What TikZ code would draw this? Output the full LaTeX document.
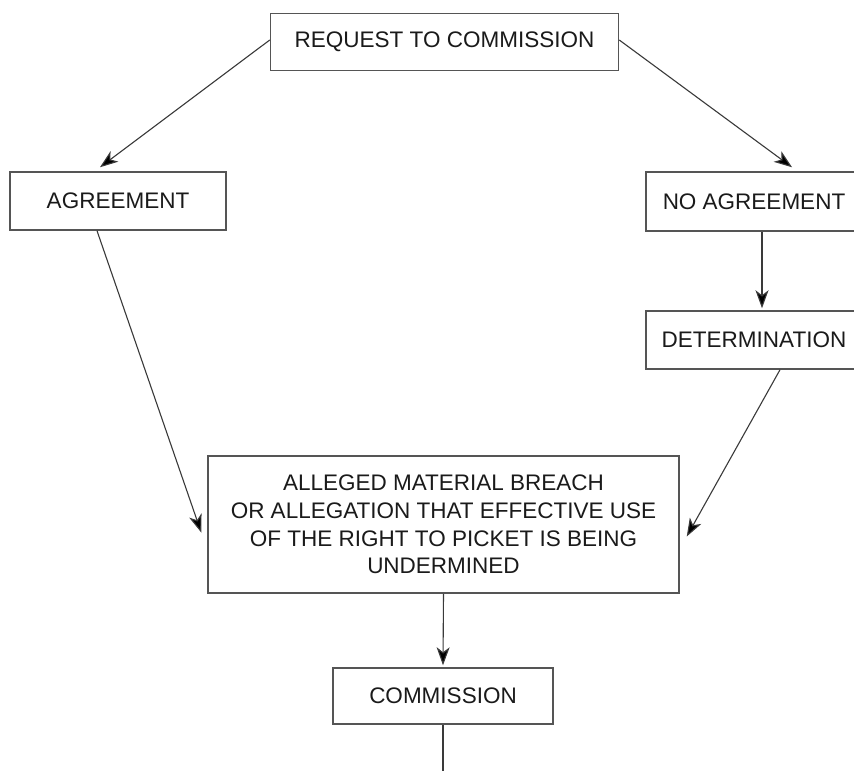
\documentclass[tikz,border=0pt]{standalone}
\usepackage{fontspec}
\setmainfont{Liberation Sans}
\usetikzlibrary{arrows.meta}
\definecolor{boxline}{HTML}{555555}
\definecolor{arrline}{HTML}{3A3A3A}
\definecolor{txt}{HTML}{1A1A1A}
\begin{document}
\begin{tikzpicture}[x=1pt,y=-1pt,
  box/.style={draw=boxline,line width=1.5pt,rectangle,inner sep=0pt,
    text=txt,font=\fontsize{22.5}{27.7}\selectfont,align=center},
  arr/.style={draw=arrline,line width=1.1pt,
    -{Stealth[length=18pt,width=13pt,inset=5pt,fill=black]}},
  plain/.style={draw=arrline,line width=1.1pt}]
\useasboundingbox[fill=white] (0,0) rectangle (854,771);
\node[box,minimum width=348pt,minimum height=57pt] (req) at (444.5,42) {REQUEST TO COMMISSION};
\node[box,minimum width=216pt,minimum height=58pt] (agr) at (118,201) {AGREEMENT};
\node[box,minimum width=216pt,minimum height=59pt] (noagr) at (754,201.5) {NO AGREEMENT};
\node[box,minimum width=216pt,minimum height=58pt] (det) at (754,340) {DETERMINATION};
\node[box,minimum width=471pt,minimum height=137pt] (all) at (443.5,524.5)
  {ALLEGED MATERIAL BREACH\\OR ALLEGATION THAT EFFECTIVE USE\\OF THE RIGHT TO PICKET IS BEING\\UNDERMINED};
\node[box,minimum width=220pt,minimum height=56pt] (comm) at (443,696) {COMMISSION};
\coordinate (endpt) at (443,775);
\draw[arr] ([yshift=2pt]req.west) -- ([xshift=-18pt,yshift=4pt]agr.north);
\draw[arr] ([yshift=2pt]req.east) -- ([xshift=38pt,yshift=4pt]noagr.north);
\draw[arr] ([xshift=-21pt]agr.south) -- ([xshift=-6pt,yshift=-8pt]all.west);
\draw[arr] ([xshift=8pt]noagr.south) -- ([xshift=8pt,yshift=2pt]det.north);
\draw[arr] ([xshift=26pt]det.south) -- ([xshift=7pt,yshift=-12pt]all.east);
\draw[arr] (all.south) -- ([yshift=2pt]comm.north);
\draw[plain] (comm.south) -- (endpt);
\end{tikzpicture}
\end{document}
